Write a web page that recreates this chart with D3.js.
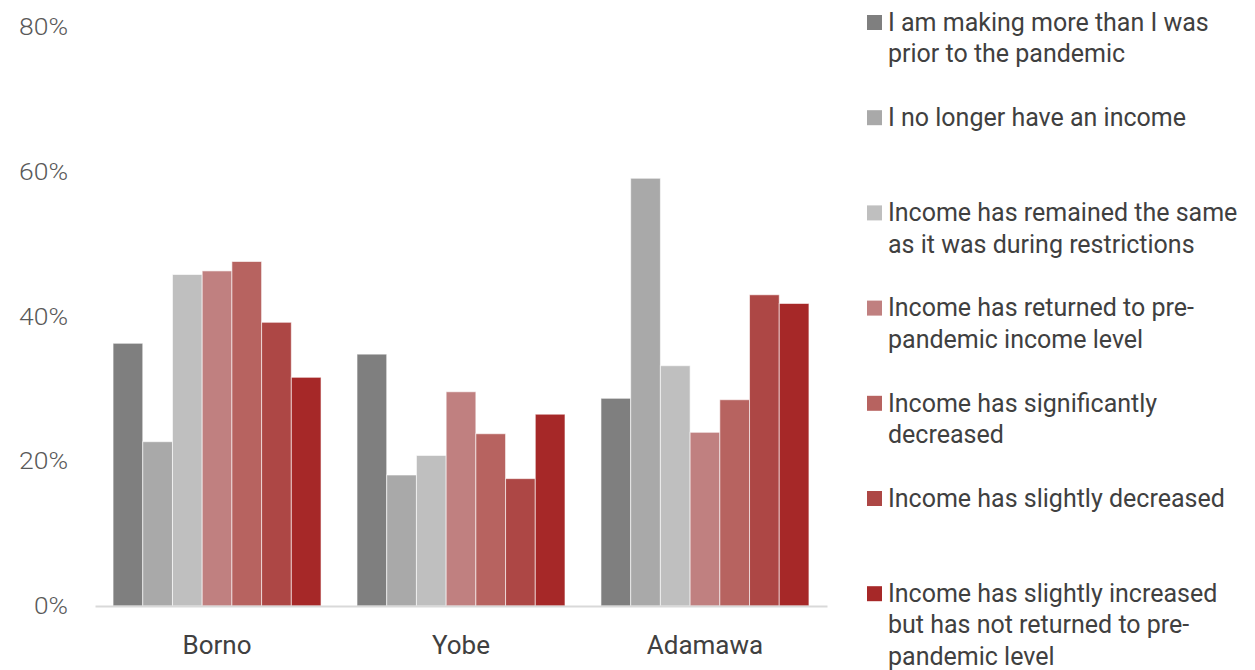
<!doctype html>
<html lang="en">
<head>
    <meta charset="utf-8">
    <title>Income change by state</title>
    <script src="https://d3js.org/d3.v7.min.js"></script>
    <style>
        body { margin: 0; background: #fff; }
        text { font-family: Roboto, "Noto Sans", sans-serif; }
    </style>
</head>
<body>
    <div id="my_dataviz"></div>

    <script>
        // data
        var states = ["Borno", "Yobe", "Adamawa"];
        var seriesNames = [
            "I am making more than I was prior to the pandemic",
            "I no longer have an income",
            "Income has remained the same as it was during restrictions",
            "Income has returned to pre-pandemic income level",
            "Income has significantly decreased",
            "Income has slightly decreased",
            "Income has slightly increased but has not returned to pre-pandemic level"
        ];
        // legend text as it wraps in the original
        var legendLines = [
            ["I am making more than I was", "prior to the pandemic"],
            ["I no longer have an income"],
            ["Income has remained the same", "as it was during restrictions"],
            ["Income has returned to pre-", "pandemic income level"],
            ["Income has significantly", "decreased"],
            ["Income has slightly decreased"],
            ["Income has slightly increased", "but has not returned to pre-", "pandemic level"]
        ];
        var borno   = [36.3, 22.7, 45.8, 46.3, 47.6, 39.2, 31.6];
        var yobe    = [34.8, 18.1, 20.8, 29.6, 23.8, 17.6, 26.5];
        var adamawa = [28.7, 59.1, 33.2, 24.0, 28.5, 43.0, 41.8];
        var yTicks = [0, 20, 40, 60, 80];
        var colors = ["#7f7f7f", "#a9a9a9", "#bfbfbf", "#c08080", "#b76360", "#ad4745", "#a62828"];

        var width = 1255,
            height = 670;

        var valuesByState = [borno, yobe, adamawa];
        var data = [];
        states.forEach(function (s, i) {
            seriesNames.forEach(function (n, j) {
                data.push({ state: s, series: n, value: valuesByState[i][j] });
            });
        });

        var svg = d3.select("#my_dataviz")
            .append("svg")
            .attr("width", width)
            .attr("height", height);

        var x0 = d3.scaleBand()
            .domain(states)
            .range([95, 827])
            .paddingInner(0.1475)
            .paddingOuter(0.074);

        var x1 = d3.scaleBand()
            .domain(seriesNames)
            .range([0, x0.bandwidth()]);

        var y = d3.scaleLinear()
            .domain([0, 80])
            .range([606, 27]);

        var color = d3.scaleOrdinal()
            .domain(seriesNames)
            .range(colors);

        // y axis labels (no line)
        var yAxis = svg.append("g")
            .attr("transform", "translate(68,0)")
            .call(d3.axisLeft(y).tickValues(yTicks).tickSize(0).tickPadding(0)
                .tickFormat(function (d) { return d + "%"; }));
        yAxis.select(".domain").remove();
        yAxis.selectAll("text")
            .attr("fill", "#595959")
            .style("font-size", "24px")
            .style("font-weight", 300)
            .attr("textLength", 49)
            .attr("lengthAdjust", "spacingAndGlyphs");
        yAxis.selectAll("text")
            .filter(function (d) { return d === 0; })
            .attr("textLength", 34);

        // bars
        svg.append("g")
            .selectAll("rect")
            .data(data)
            .enter()
            .append("rect")
            .attr("x", function (d) { return x0(d.state) + x1(d.series); })
            .attr("width", x1.bandwidth())
            .attr("y", function (d) { return y(d.value); })
            .attr("height", function (d) { return y(0) - y(d.value); })
            .attr("fill", function (d) { return color(d.series); })
            .attr("stroke", "#fff")
            .attr("stroke-opacity", 0.6)
            .attr("stroke-width", 1);

        // x axis
        var xAxis = svg.append("g")
            .attr("transform", "translate(0," + y(0) + ")")
            .call(d3.axisBottom(x0).tickSize(0).tickPadding(30));
        xAxis.select(".domain")
            .attr("stroke", "#d9d9d9")
            .attr("stroke-width", 2);
        xAxis.selectAll("text")
            .attr("fill", "#404040")
            .style("font-size", "26px")
            .style("font-weight", 400);

        // legend
        var legendTop = 22, legendStep = 95.2, lineH = 31.5;
        var legend = svg.append("g")
            .selectAll("g")
            .data(seriesNames)
            .enter()
            .append("g")
            .attr("transform", function (d, i) { return "translate(867," + (legendTop + i * legendStep) + ")"; });

        legend.append("rect")
            .attr("x", 0)
            .attr("y", -7)
            .attr("width", 15)
            .attr("height", 15)
            .attr("fill", function (d) { return color(d); });

        legend.append("text")
            .attr("x", 21)
            .attr("y", 0)
            .attr("fill", "#404040")
            .style("font-size", "25px")
            .style("font-weight", 400)
            .selectAll("tspan")
            .data(function (d, i) { return legendLines[i]; })
            .enter()
            .append("tspan")
            .attr("x", 21)
            .attr("dy", function (d, i) { return i === 0 ? "0.35em" : lineH; })
            .text(function (d) { return d; });
    </script>
</body>
</html>
